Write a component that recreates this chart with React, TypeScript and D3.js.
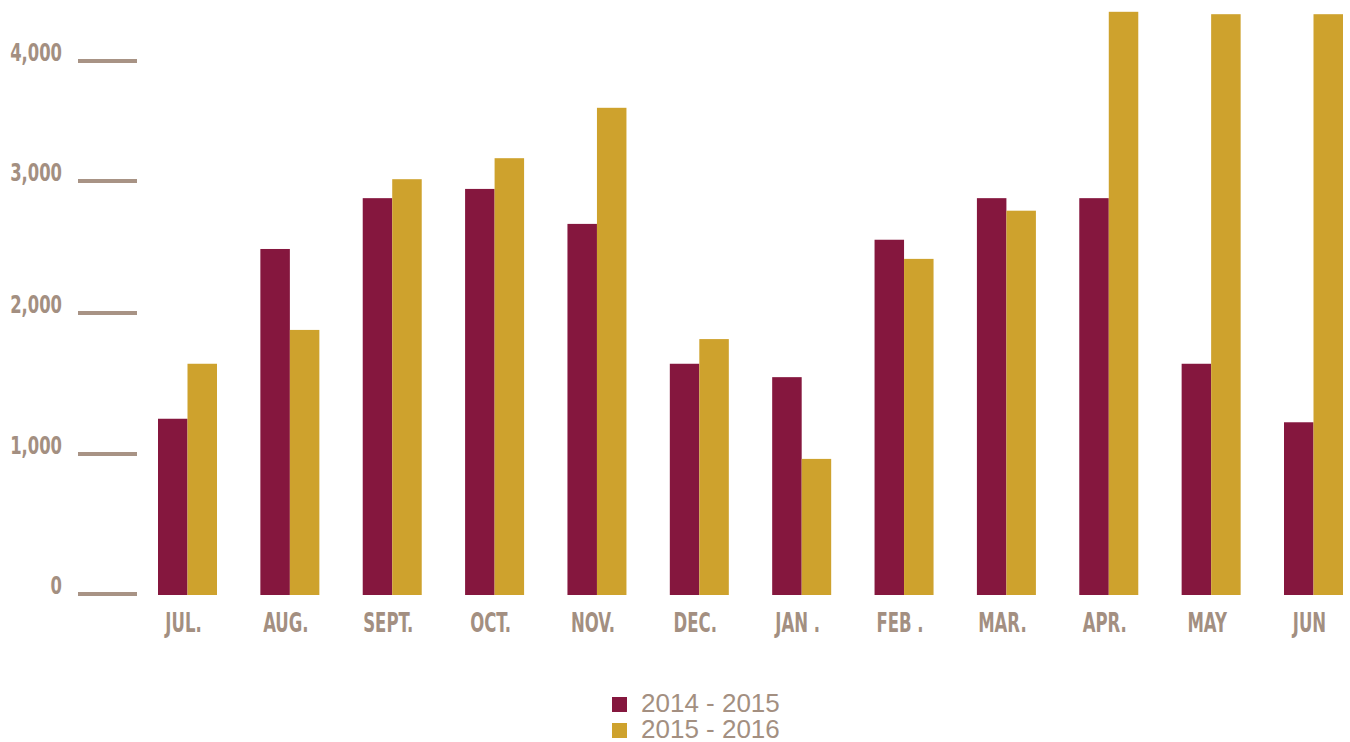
import React from "react";
import * as d3 from "d3";

const months = ["JUL.", "AUG.", "SEPT.", "OCT.", "NOV.", "DEC.", "JAN .", "FEB .", "MAR.", "APR.", "MAY", "JUN"];
const seriesNames = ["2014 - 2015", "2015 - 2016"];
const values2014 = [1250, 2485, 2870, 2940, 2675, 1640, 1545, 2555, 2870, 2870, 1640, 1225];
const values2015 = [1640, 1880, 3015, 3190, 3610, 1815, 965, 2410, 2775, 4410, 4390, 4390];
const yTicks = [0, 1000, 2000, 3000, 4000];
const colors = ["#85173e", "#cea22d"];

const TEXT = "#a38f81";
const LINE = "#a89385";
const FONT = "'Liberation Sans Narrow', 'DejaVu Sans Condensed', 'Liberation Sans', sans-serif";

export default function App() {
  const y = d3.scaleLinear().domain(yTicks).range([594, 454, 313, 181, 61]);
  const x = d3.scalePoint<string>().domain(months).range([187.5, 1313.5]);
  const sub = d3.scaleBand<string>().domain(seriesNames).range([-29.5, 29.5]);
  const series = [values2014, values2015];
  const fmt = d3.format(",");
  return (
    <svg width={1350} height={742} style={{ position: "absolute", left: 0, top: 0 }}>
      <rect width={1350} height={742} fill="#fff" />
      {yTicks.map((t) => (
        <g key={t}>
          <line x1={78} x2={137} y1={y(t)} y2={y(t)} stroke={LINE} strokeWidth={4} />
          <g transform={`translate(62,${y(t)}) scale(0.76,1)`}>
            <text textAnchor="end" fontFamily={FONT} fontWeight="bold" fontSize={24} fill={TEXT}>
              {fmt(t)}
            </text>
          </g>
        </g>
      ))}
      {months.map((m, i) => (
        <g key={m}>
          {series.map((vals, s) => (
            <rect
              key={s}
              x={(x(m) as number) + (sub(seriesNames[s]) as number)}
              y={y(vals[i])}
              width={sub.bandwidth()}
              height={595 - y(vals[i])}
              fill={colors[s]}
            />
          ))}
          <g transform={`translate(${(x(m) as number) - 4},632) scale(0.68,1)`}>
            <text textAnchor="middle" fontFamily={FONT} fontWeight="bold" fontSize={27} fill={TEXT}>
              {m}
            </text>
          </g>
        </g>
      ))}
      {seriesNames.map((n, s) => (
        <g key={n}>
          <rect x={612} y={697 + s * 26} width={15} height={15} fill={colors[s]} />
          <text x={641} y={712 + s * 26} fontFamily="'Liberation Sans', sans-serif" fontSize={26} fill={TEXT}>
            {n}
          </text>
        </g>
      ))}
    </svg>
  );
}
